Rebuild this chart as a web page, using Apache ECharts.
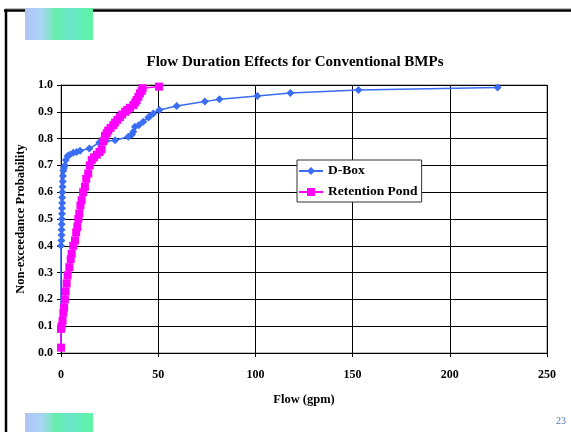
<!DOCTYPE html>
<html><head><meta charset="utf-8">
<script src="https://cdn.jsdelivr.net/npm/echarts@6/dist/echarts.min.js"></script>
<style>html,body{margin:0;padding:0;background:#fff}#c{width:571px;height:432px}</style>
</head><body><div id="c"></div>
<script>
const titleText = 'Flow Duration Effects for Conventional BMPs';
const xTicks = [0, 50, 100, 150, 200, 250];
const yTicks = [0.0, 0.1, 0.2, 0.3, 0.4, 0.5, 0.6, 0.7, 0.8, 0.9, 1.0];
const dboxFlow = [0, 0, 0.2, 0.3, 0.3, 0.4, 0.4, 0.5, 0.5, 0.6, 0.6, 0.7, 0.8, 0.9, 1.0, 1.2, 1.5, 2.0, 2.5, 3.4, 4.5, 6.3, 8.0, 9.8, 14.6, 19.7, 23.0, 27.8, 34.6, 36.5, 37.2, 38.0, 40.0, 42.3, 44.9, 45.8, 47.5, 50.6, 59.5, 74.0, 81.5, 101, 118, 153, 224.6];
const dboxProb = [0.02, 0.40, 0.42, 0.44, 0.46, 0.48, 0.50, 0.52, 0.54, 0.56, 0.58, 0.60, 0.62, 0.64, 0.66, 0.68, 0.69, 0.70, 0.72, 0.735, 0.74, 0.747, 0.75, 0.755, 0.763, 0.785, 0.79, 0.794, 0.807, 0.815, 0.826, 0.844, 0.85, 0.863, 0.879, 0.884, 0.894, 0.907, 0.922, 0.938, 0.947, 0.959, 0.970, 0.981, 0.991];
const pondFlow = [0, 0, 0.3, 0.8, 1.2, 1.6, 2.0, 2.4, 2.9, 3.4, 4.3, 5.0, 5.5, 6.3, 7.2, 7.8, 8.4, 8.9, 9.4, 10.0, 10.6, 11.4, 12.3, 13.0, 14.0, 14.8, 15.8, 17.0, 18.4, 19.8, 20.9, 21.7, 22.6, 23.5, 24.3, 25.5, 26.9, 27.8, 29.0, 30.3, 31.5, 33.0, 34.1, 35.5, 37.2, 38.2, 38.9, 39.8, 40.6, 41.5, 42.0, 50.4];
const pondProb = [0.02, 0.09, 0.10, 0.12, 0.15, 0.17, 0.20, 0.23, 0.26, 0.29, 0.32, 0.35, 0.37, 0.40, 0.42, 0.45, 0.47, 0.50, 0.52, 0.55, 0.57, 0.60, 0.62, 0.65, 0.67, 0.70, 0.72, 0.73, 0.74, 0.75, 0.76, 0.79, 0.81, 0.82, 0.83, 0.84, 0.85, 0.86, 0.87, 0.88, 0.89, 0.90, 0.907, 0.915, 0.925, 0.935, 0.944, 0.956, 0.969, 0.978, 0.988, 0.994];

const F = 'Liberation Serif, Times New Roman, serif';
const pairs = (a, b) => a.map((v, i) => [v, b[i]]);
const chart = echarts.init(document.getElementById('c'), null, {renderer: 'canvas'});
function gradRect(x, y, w, h) {
  return {type: 'rect', shape: {x, y, width: w, height: h}, z: 10,
    style: {fill: new echarts.graphic.LinearGradient(0, 0, 1, 0, [
      {offset: 0, color: '#b4c4f6'}, {offset: 0.25, color: '#a8d4f4'},
      {offset: 0.45, color: '#66eeaa'}, {offset: 0.65, color: '#6ae6cc'},
      {offset: 1, color: '#5cf4a2'}])}};
}
chart.setOption({
  animation: false,
  backgroundColor: '#ffffff',
  title: {text: titleText, left: 290, top: 50, textAlign: 'center',
    textStyle: {fontFamily: F, fontWeight: 'bold', fontSize: 15, color: '#000'}},
  grid: {left: 61, right: 24, top: 85, bottom: 79, containLabel: false,
    show: true, borderColor: '#808080', borderWidth: 1},
  legend: {orient: 'vertical', left: 297, top: 160, backgroundColor: '#fff',
    borderColor: '#333', borderWidth: 1, padding: [4, 4, 3, 1], itemGap: 7,
    itemWidth: 24, itemHeight: 10,
    textStyle: {fontFamily: F, fontWeight: 'bold', fontSize: 13.5, color: '#000'},
    data: ['D-Box', 'Retention Pond']},
  xAxis: {type: 'value', min: xTicks[0], max: xTicks[xTicks.length - 1], interval: 50,
    name: 'Flow (gpm)', nameLocation: 'middle', nameGap: 40,
    nameTextStyle: {fontFamily: F, fontWeight: 'bold', fontSize: 12.5, color: '#000'},
    axisLine: {show: true, onZero: false, lineStyle: {color: '#000', width: 1}},
    axisTick: {show: true, length: 4, lineStyle: {color: '#000'}},
    axisLabel: {margin: 16, fontFamily: F, fontWeight: 'bold', fontSize: 12, color: '#000'},
    splitLine: {show: true, lineStyle: {color: '#000', width: 1}}},
  yAxis: {type: 'value', min: yTicks[0], max: yTicks[yTicks.length - 1], interval: 0.1,
    name: 'Non-exceedance Probability', nameLocation: 'middle', nameGap: 32, nameRotate: 90,
    nameTextStyle: {fontFamily: F, fontWeight: 'bold', fontSize: 12.5, color: '#000'},
    axisLine: {show: true, lineStyle: {color: '#000', width: 1}},
    axisTick: {show: true, length: 4, lineStyle: {color: '#000'}},
    axisLabel: {margin: 8, fontFamily: F, fontWeight: 'bold', fontSize: 12, color: '#000',
      formatter: v => v.toFixed(1)},
    splitLine: {show: true, lineStyle: {color: '#000', width: 1}}},
  series: [
    {name: 'D-Box', type: 'line', data: pairs(dboxFlow, dboxProb), symbol: 'diamond',
      symbolSize: 8, showAllSymbol: true, color: '#3a6cf4',
      lineStyle: {width: 1.5, color: '#3a6cf4'}, itemStyle: {color: '#3a6cf4'}, z: 3},
    {name: 'Retention Pond', type: 'line', data: pairs(pondFlow, pondProb), symbol: 'rect',
      symbolSize: 8, showAllSymbol: true, color: '#ff00ff',
      lineStyle: {width: 1.5, color: '#ff00ff'}, itemStyle: {color: '#ff00ff'}, z: 4}
  ],
  graphic: [
    {type: 'line', shape: {x1: 5, y1: 8.5, x2: 571, y2: 8.5}, style: {stroke: '#bbb', lineWidth: 1}, z: 9},
    {type: 'line', shape: {x1: 4, y1: 10.5, x2: 571, y2: 10.5}, style: {stroke: '#000', lineWidth: 2.5}, z: 9},
    {type: 'line', shape: {x1: 6, y1: 9.5, x2: 6, y2: 432}, style: {stroke: '#000', lineWidth: 2.5}, z: 9},
    gradRect(25, 8, 68, 32),
    gradRect(25, 413, 68, 19),
    {type: 'text', left: 556, top: 416, z: 10,
      style: {text: '23', fontFamily: F, fontSize: 10, fill: '#4a78b4'}}
  ]
});
</script></body></html>
